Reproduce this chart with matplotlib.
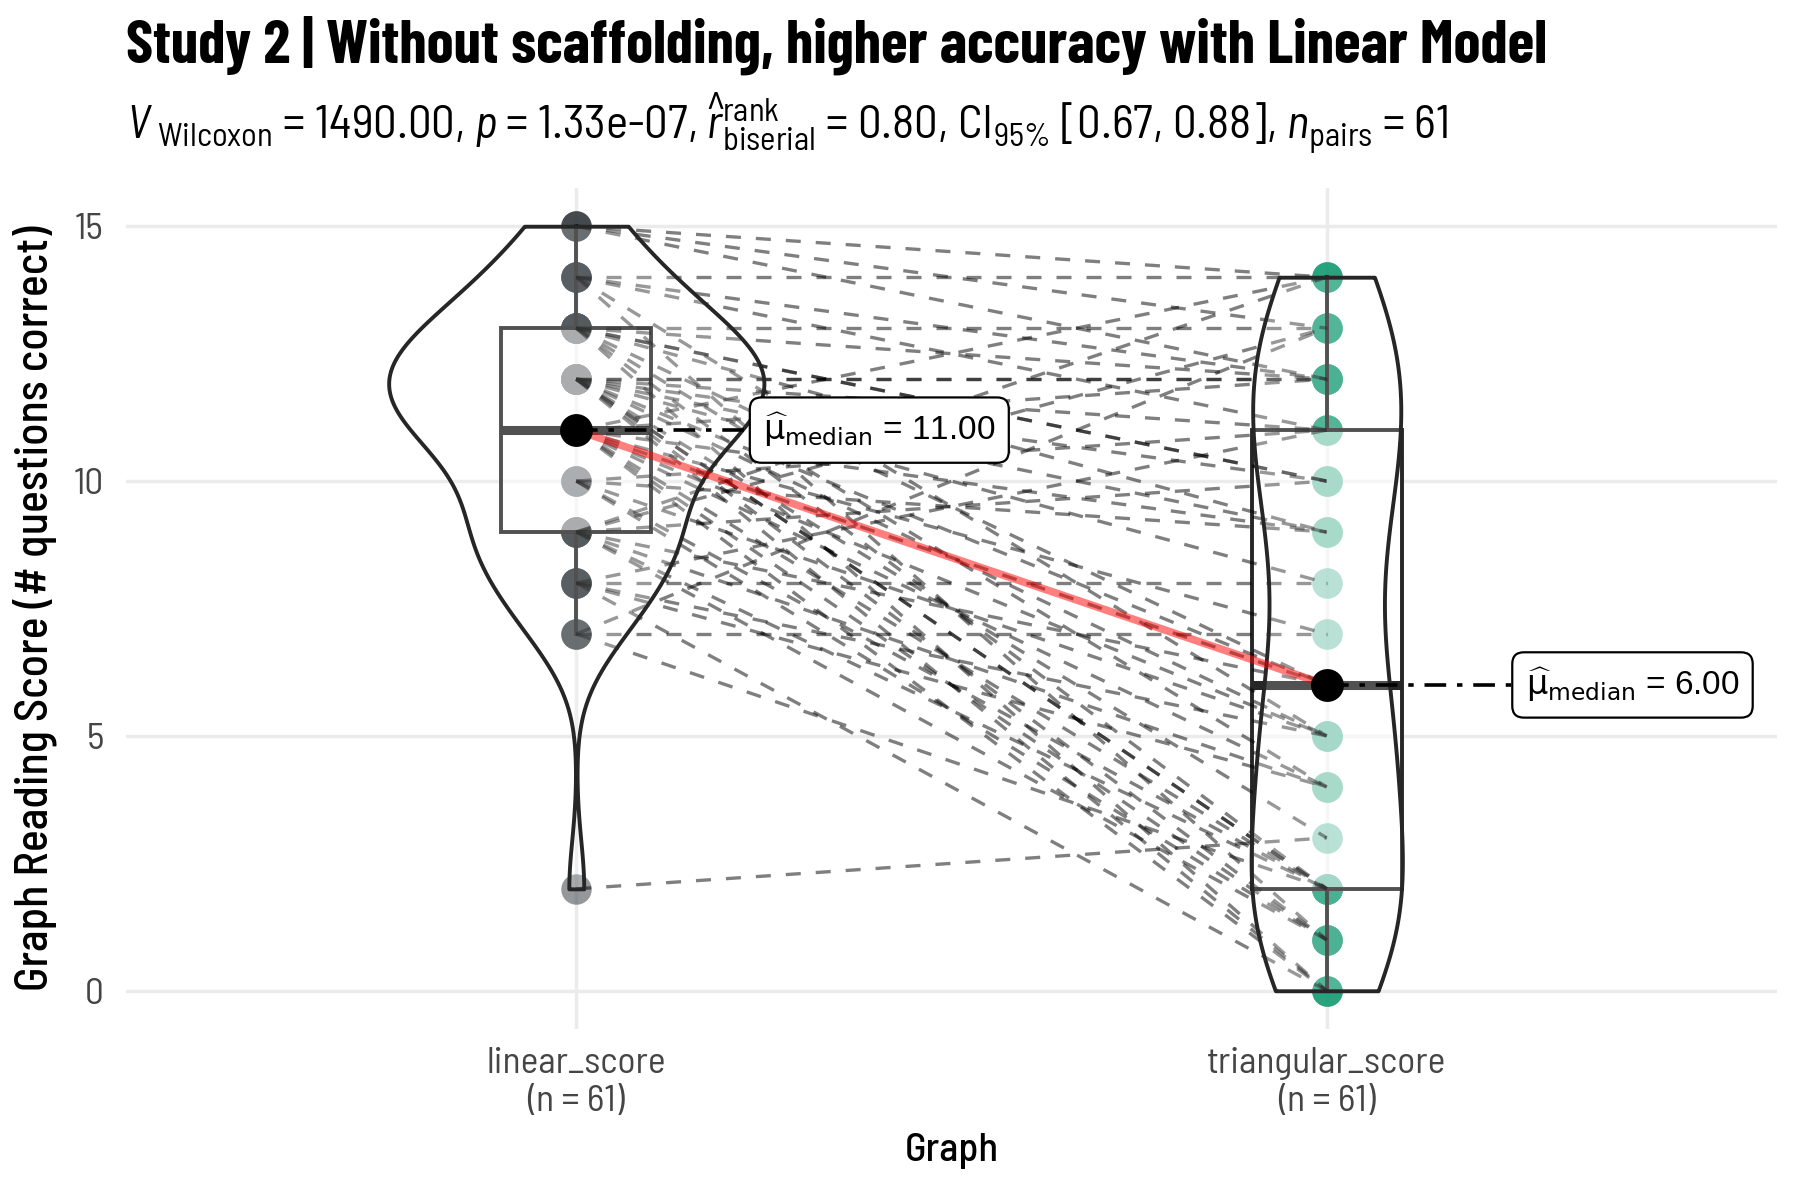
import numpy as np
import matplotlib
matplotlib.use("Agg")
import matplotlib.pyplot as plt
from matplotlib import font_manager


def pick(*names):
    for n in names:
        try:
            font_manager.findfont(n, fallback_to_default=False)
            return n
        except ValueError:
            pass
    return "DejaVu Sans"


# Barlow is what the reference uses: condensed title, semi condensed for the rest
cond = pick("Barlow Condensed")
semi = pick("Barlow Semi Condensed", "Barlow Condensed")

plt.rcParams["font.family"] = [semi, "DejaVu Sans"]
plt.rcParams["mathtext.fontset"] = "custom"
plt.rcParams["mathtext.rm"] = semi
plt.rcParams["mathtext.it"] = semi + ":italic"
plt.rcParams["mathtext.bf"] = semi + ":bold"

# data: one row per participant (paired scores)
groups = ["linear_score", "triangular_score"]
linear_score = [15, 15, 15,
                14, 14, 14, 14, 14,
                13, 13, 13, 13, 13, 13, 13, 13, 13,
                12, 12, 12, 12, 12, 12, 12, 12, 12, 12, 12, 12, 12,
                11, 11, 11, 11, 11, 11, 11, 11, 11, 11,
                10, 10, 10, 10, 10,
                9, 9, 9, 9, 9, 9, 9,
                8, 8, 8, 8, 8,
                7, 7, 7,
                2]
triangular_score = [14, 13, 12,
                    14, 12, 11, 5, 1,
                    13, 12, 10, 10, 9, 6, 4, 2, 0,
                    12, 12, 11, 10, 9, 8, 6, 5, 2, 2, 1, 0, 3,
                    12, 9, 7, 6, 5, 4, 2, 1, 0, 14,
                    11, 9, 5, 2, 1,
                    14, 13, 10, 6, 4, 2, 1,
                    11, 8, 5, 4, 0,
                    13, 7, 2,
                    3]
group_colors = ["#2b3236", "#1B9E77"]

title = "Study 2 | Without scaffolding, higher accuracy with Linear Model"
subtitle = (r"$\mathit{V}_{\ \mathrm{Wilcoxon}}$ = 1490.00, $\mathit{p}$ = 1.33e-07, "
            r"$\widehat{\mathit{r}}_{\mathrm{biserial}}^{\mathrm{rank}}$ = 0.80, "
            r"CI$_{\mathrm{95\%}}$ [0.67, 0.88], $\mathit{n}_{\mathrm{pairs}}$ = 61")
ylab = "Graph Reading Score (# questions correct)"
xlab = "Graph"

values = [np.array(linear_score, float), np.array(triangular_score, float)]
xpos = [1, 2]
line_col = "#262626"


def kde(v):
    # gaussian kernel with R's bw.nrd0, trimmed to the data range (geom_violin)
    n = len(v)
    q75, q25 = np.percentile(v, [75, 25])
    bw = 0.9 * min(v.std(ddof=1), (q75 - q25) / 1.34) * n ** -0.2
    grid = np.linspace(v.min(), v.max(), 512)
    d = np.exp(-0.5 * ((grid[:, None] - v[None, :]) / bw) ** 2).sum(1)
    return grid, d / (n * bw * np.sqrt(2 * np.pi))


fig = plt.figure(figsize=(18, 12), dpi=100)
ax = fig.add_axes([126 / 1800, 171 / 1200, 1651 / 1800, 841 / 1200])

# points
for x, v, c in zip(xpos, values, group_colors):
    ax.scatter(np.full(len(v), x), v, s=480, color=c, alpha=0.5,
               linewidths=0, zorder=2)

# boxes
ax.boxplot(values, positions=xpos, widths=0.2, whis=1.5, showfliers=False,
           patch_artist=True, manage_ticks=False, zorder=3,
           boxprops=dict(facecolor=(1, 1, 1, 0.5), edgecolor=line_col, linewidth=2.8),
           medianprops=dict(color=line_col, linewidth=6.5, solid_capstyle="butt"),
           whiskerprops=dict(color=line_col, linewidth=2.8),
           capprops=dict(linewidth=0))

# paired paths
for a, b in zip(linear_score, triangular_score):
    ax.plot(xpos, [a, b], color="black", alpha=0.5, lw=2.4,
            ls=(0, (4.5, 4.5)), zorder=3.5)

# violins, area scaled, width 0.5
dens = [kde(v) for v in values]
dmax = max(d.max() for _, d in dens)
for x, (g, d) in zip(xpos, dens):
    w = d / dmax * 0.25
    ax.fill_betweenx(g, x - w, x + w, facecolor=(1, 1, 1, 0.2),
                     edgecolor=line_col, linewidth=2.8, zorder=4)

# medians
meds = [np.median(v) for v in values]
ax.plot(xpos, meds, color="red", alpha=0.5, lw=5.5, zorder=5,
        solid_capstyle="butt")
label_x = [1.249, 2.265]
for x, m, lx in zip(xpos, meds, label_x):
    ax.plot([x, lx - 0.018], [m, m], color="black", lw=2.6,
            ls=(0, (6, 3, 1.5, 3)), zorder=5.5)
    ax.text(lx, m, r"$\widehat{\mathrm{\mu}}_{\mathrm{median}}$" + f" = {m:.2f}",
            fontsize=24, family=["Liberation Sans", "DejaVu Sans"],
            math_fontfamily="dejavusans", ha="left", va="center", zorder=7,
            bbox=dict(boxstyle="round,pad=0.4,rounding_size=0.35",
                      fc="white", ec="black", lw=1.6))
ax.scatter(xpos, meds, s=560, color="black", linewidths=0, zorder=6)

# axes styling
ax.set_xlim(0.4, 2.6)
ax.set_ylim(-0.75, 15.75)
ax.set_yticks([0, 5, 10, 15])
ax.set_xticks(xpos)
ax.set_xticklabels([f"{g}\n(n = {len(v)})" for g, v in zip(groups, values)])
ax.tick_params(length=0, labelsize=27, labelcolor="#454545")
for lab in ax.get_xticklabels() + ax.get_yticklabels():
    lab.set_fontweight(400)
ax.tick_params(axis="x", pad=13)
ax.tick_params(axis="y", pad=16)
ax.grid(color="#EBEBEB", lw=2.5)
ax.set_axisbelow(True)
for s in ax.spines.values():
    s.set_visible(False)

ax.set_xlabel(xlab, fontsize=29, fontweight=500)
ax.xaxis.set_label_coords(0.5, -0.124)
ax.set_ylabel(ylab, fontsize=29, fontweight=500)
ax.yaxis.set_label_coords(-0.042, 0.5)

t = fig.text(126 / 1800, 1 - 63 / 1200, title, fontsize=40, weight="bold",
             family=[cond, "DejaVu Sans"], ha="left", va="baseline")
st = fig.text(126 / 1800, 1 - 140 / 1200, subtitle, fontsize=29,
              ha="left", va="baseline")

# match the reference's text widths
r = fig.canvas.get_renderer()
for txt, target in [(t, 1420), (st, 1323)]:
    w = txt.get_window_extent(r).width
    txt.set_fontsize(txt.get_fontsize() * target / w)
yl = ax.yaxis.label
h = yl.get_window_extent(r).height
yl.set_fontsize(yl.get_fontsize() * 766 / h)

fig.savefig("out.png", dpi=100)
